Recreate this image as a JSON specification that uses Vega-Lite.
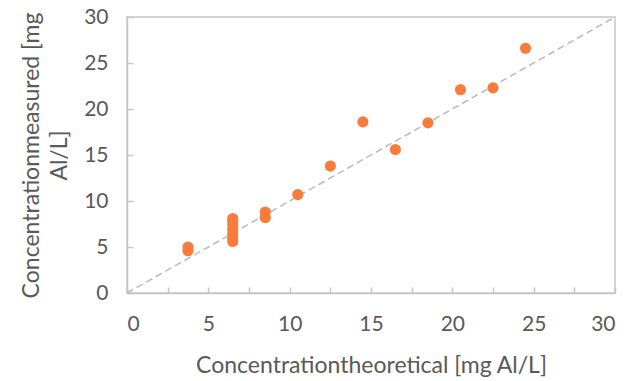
{
  "$schema": "https://vega.github.io/schema/vega-lite/v6.json",
  "width": 488,
  "height": 276,
  "autosize": {"type": "none"},
  "padding": {"left": 127, "top": 17, "right": 14, "bottom": 88},
  "background": "white",
  "config": {
    "view": {"stroke": "#C6C6C6", "strokeWidth": 1.5},
    "font": "Lato",
    "axis": {
      "grid": false,
      "domainColor": "#C6C6C6",
      "domainWidth": 1.5,
      "tickColor": "#C6C6C6",
      "tickWidth": 1.5,
      "tickSize": -6,
      "labelFont": "Lato",
      "labelFontSize": 21,
      "labelColor": "#595959",
      "titleFont": "Lato",
      "titleFontSize": 23,
      "titleFontWeight": "normal",
      "titleColor": "#595959"
    }
  },
  "datasets": {
    "points": [
      {"theoretical": 3.75, "measured": 4.6},
      {"theoretical": 3.75, "measured": 5.0},
      {"theoretical": 6.5, "measured": 5.6},
      {"theoretical": 6.5, "measured": 5.9},
      {"theoretical": 6.5, "measured": 6.4},
      {"theoretical": 6.5, "measured": 6.9},
      {"theoretical": 6.5, "measured": 7.4},
      {"theoretical": 6.5, "measured": 7.8},
      {"theoretical": 6.5, "measured": 8.1},
      {"theoretical": 8.5, "measured": 8.2},
      {"theoretical": 8.5, "measured": 8.8},
      {"theoretical": 10.5, "measured": 10.7},
      {"theoretical": 12.5, "measured": 13.8},
      {"theoretical": 14.5, "measured": 18.6},
      {"theoretical": 16.5, "measured": 15.6},
      {"theoretical": 18.5, "measured": 18.5},
      {"theoretical": 20.5, "measured": 22.1},
      {"theoretical": 22.5, "measured": 22.3},
      {"theoretical": 24.5, "measured": 26.6}
    ],
    "identity": [
      {"theoretical": 0, "measured": 0},
      {"theoretical": 30, "measured": 30}
    ]
  },
  "layer": [
    {
      "data": {"name": "identity"},
      "mark": {"type": "line", "color": "#BDBDBD", "strokeWidth": 1.6, "strokeDash": [7, 4]},
      "encoding": {
        "x": {"field": "theoretical", "type": "quantitative"},
        "y": {"field": "measured", "type": "quantitative"}
      }
    },
    {
      "data": {"name": "points"},
      "mark": {"type": "circle", "size": 125, "color": "#F97C3C", "opacity": 1},
      "encoding": {
        "x": {
          "field": "theoretical",
          "type": "quantitative",
          "scale": {"domain": [0, 30], "nice": false},
          "axis": {
            "values": [0, 2.5, 5, 7.5, 10, 12.5, 15, 17.5, 20, 22.5, 25, 27.5, 30],
            "labelExpr": "datum.value % 5 == 0 ? datum.label : ''",
            "labelPadding": 26,
            "title": "Concentrationtheoretical [mg Al/L]",
            "titlePadding": 20
          }
        },
        "y": {
          "field": "measured",
          "type": "quantitative",
          "scale": {"domain": [0, 30], "nice": false},
          "axis": {
            "values": [0, 2.5, 5, 7.5, 10, 12.5, 15, 17.5, 20, 22.5, 25, 27.5, 30],
            "labelExpr": "datum.value % 5 == 0 ? datum.label : ''",
            "labelPadding": 25,
            "title": ["Concentrationmeasured [mg", "Al/L]"],
            "titleLineHeight": 28,
            "titlePadding": 12
          }
        }
      }
    }
  ]
}
